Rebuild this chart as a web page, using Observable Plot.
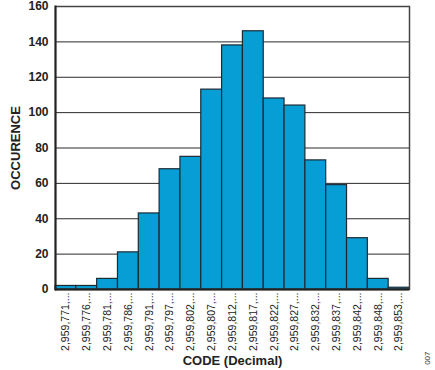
<!DOCTYPE html>
<html><head><meta charset="utf-8">
<script src="https://cdn.jsdelivr.net/npm/d3@7"></script>
<script src="https://cdn.jsdelivr.net/npm/@observablehq/plot@0.6"></script>
<style>body{margin:0;background:#fff}</style>
</head><body><div id="chart"></div>
<script>
const codes = ["2,959,771,...","2,959,776,...","2,959,781,...","2,959,786,...","2,959,791,...","2,959,797,...","2,959,802,...","2,959,807,...","2,959,812,...","2,959,817,...","2,959,822,...","2,959,827,...","2,959,832,...","2,959,837,...","2,959,842,...","2,959,848,...","2,959,853,..."];
const counts = [2, 2, 6, 21, 43, 68, 75, 113, 138, 146, 108, 104, 73, 59, 29, 6, 1];
const yTicks = [0, 20, 40, 60, 80, 100, 120, 140, 160];
const gridTicks = [20, 40, 60, 80, 100, 120, 140, 160];
const yTitle = "OCCURENCE";
const xTitle = "CODE (Decimal)";
const figId = "007";

const data = codes.map((c, i) => ({code: c, count: counts[i]}));

const chart = Plot.plot({
  width: 435, height: 370,
  marginLeft: 55, marginRight: 26, marginTop: 6, marginBottom: 81,
  style: {fontFamily: "'Liberation Sans', Arial, sans-serif", background: "#fff", color: "#222"},
  x: {type: "band", domain: codes, padding: 0, round: false},
  y: {domain: [0, 160]},
  marks: [
    Plot.gridY(gridTicks, {stroke: "#2a2a2a", strokeOpacity: 1, strokeWidth: 1}),
    Plot.barY(data, {x: "code", y: "count", fill: "#069ed4", stroke: "#1b2b35", strokeWidth: 1.2}),
    Plot.frame({stroke: "#444", strokeWidth: 1.5}),
    Plot.ruleY([0], {stroke: "#222", strokeWidth: 2}),
    Plot.frame({anchor: "left", stroke: "#222", strokeWidth: 2}),
    Plot.axisY(yTicks, {tickSize: 0, tickPadding: 7, fontSize: 12, fontWeight: "bold",
      label: yTitle, labelAnchor: "center", labelOffset: 45, labelArrow: "none"}),
    Plot.axisX({tickSize: 0, tickPadding: 3, tickRotate: -90, fontSize: 10.5,
      label: xTitle, labelAnchor: "center", labelOffset: 75, labelArrow: "none"}),
    Plot.text([figId], {frameAnchor: "bottom-right", text: d => d, rotate: -90, dx: 20, dy: 62, fontSize: 8, fill: "#333"})
  ]
});
chart.querySelectorAll("g[aria-label='y-axis label'], g[aria-label='x-axis label']").forEach(el => {
  el.setAttribute("font-weight", "bold");
  el.setAttribute("font-size", "13");
});
document.getElementById("chart").appendChild(chart);
</script>
</body></html>
